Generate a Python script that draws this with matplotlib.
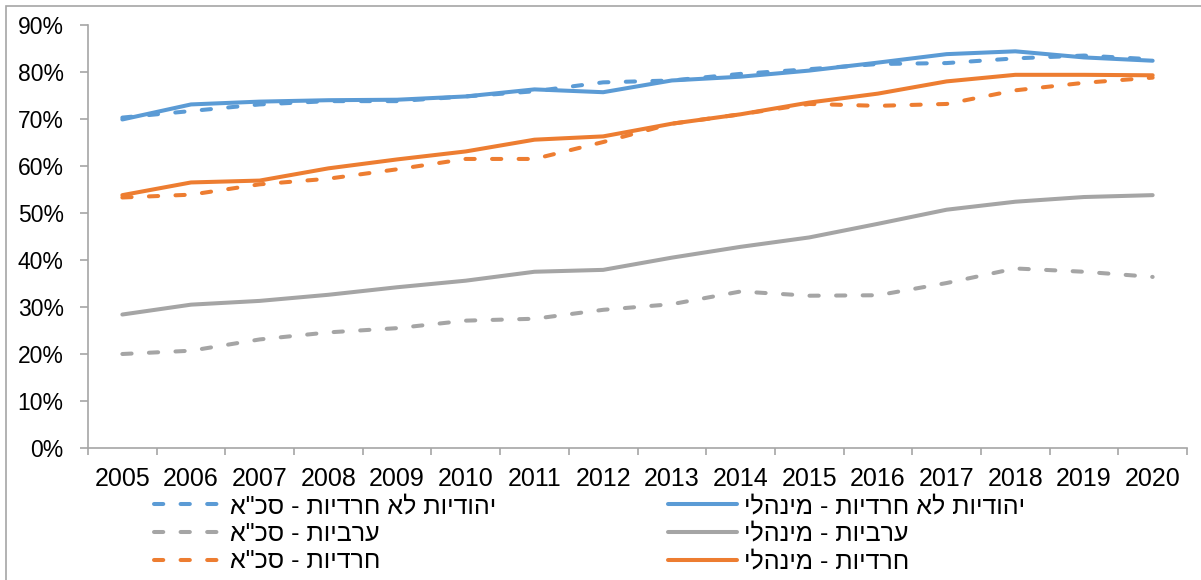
import matplotlib
matplotlib.use('Agg')
import matplotlib.pyplot as plt
from matplotlib.ticker import PercentFormatter, FixedLocator
from matplotlib.lines import Line2D

plt.rcParams['font.family'] = ['Liberation Sans', 'DejaVu Sans']

years = [str(y) for y in range(2005, 2021)]

# יהודיות לא חרדיות
jew_mgr = [69.9, 73.1, 73.7, 74.0, 74.1, 74.8, 76.3, 75.7, 78.2, 79.0, 80.3, 82.0, 83.8, 84.4, 83.1, 82.4]
jew_sca = [70.3, 71.7, 73.1, 73.8, 73.8, 74.8, 75.9, 77.8, 78.2, 79.6, 80.6, 81.7, 81.9, 82.9, 83.5, 82.7]
# ערביות
arab_mgr = [28.4, 30.5, 31.3, 32.6, 34.2, 35.6, 37.5, 37.9, 40.5, 42.8, 44.8, 47.7, 50.7, 52.4, 53.4, 53.8]
arab_sca = [20.0, 20.7, 23.1, 24.6, 25.5, 27.1, 27.5, 29.4, 30.6, 33.3, 32.4, 32.5, 35.1, 38.2, 37.5, 36.4]
# חרדיות
har_mgr = [53.8, 56.5, 56.9, 59.5, 61.4, 63.1, 65.6, 66.3, 69.0, 71.0, 73.5, 75.4, 78.0, 79.4, 79.4, 79.3]
har_sca = [53.3, 53.9, 56.1, 57.3, 59.3, 61.5, 61.5, 65.1, 69.0, 71.0, 73.2, 72.8, 73.2, 76.1, 77.7, 78.8]

labels_sca = ['יהודיות לא חרדיות - סכ"א', 'ערביות - סכ"א', 'חרדיות - סכ"א']
labels_mgr = ['יהודיות לא חרדיות - מינהלי', 'ערביות - מינהלי', 'חרדיות - מינהלי']

blue = '#5B9BD5'
gray = '#A5A5A5'
orange = '#ED7D31'
colors = [blue, gray, orange]


def rtl(s):
    # matplotlib has no bidi, so flip hebrew to visual order
    return s[::-1]


W, H = 1201, 580
fig = plt.figure(figsize=(W / 100, H / 100), dpi=100)
ax = fig.add_axes([88 / W, (H - 448) / H, 1099 / W, (448 - 25) / H])

x = list(range(len(years)))
lw = 2.9
dash = (2.3, 4.3)
ax.plot(x, jew_sca, color=blue, lw=lw, dashes=dash, dash_capstyle='round')
ax.plot(x, jew_mgr, color=blue, lw=lw, solid_capstyle='round')
ax.plot(x, arab_sca, color=gray, lw=lw, dashes=dash, dash_capstyle='round')
ax.plot(x, arab_mgr, color=gray, lw=lw, solid_capstyle='round')
ax.plot(x, har_sca, color=orange, lw=lw, dashes=dash, dash_capstyle='round')
ax.plot(x, har_mgr, color=orange, lw=lw, solid_capstyle='round')

ax.set_xlim(-0.5, len(years) - 0.5)
ax.set_ylim(0, 90)
ax.set_yticks(range(0, 91, 10))
ax.yaxis.set_major_formatter(PercentFormatter(decimals=0))

ax.xaxis.set_major_locator(FixedLocator([i - 0.5 for i in range(len(years) + 1)]))
ax.xaxis.set_minor_locator(FixedLocator(x))
ax.set_xticklabels([], minor=False)
ax.set_xticklabels(years, minor=True)

axcol = '#A6A6A6'
for side in ['top', 'right']:
    ax.spines[side].set_visible(False)
for side in ['left', 'bottom']:
    ax.spines[side].set_color(axcol)
    ax.spines[side].set_linewidth(1.2)
ax.tick_params(axis='y', which='major', length=5.5, width=1.2, color=axcol, pad=12, labelsize=16.5)
ax.tick_params(axis='x', which='major', length=5, width=1.2, color=axcol)
ax.tick_params(axis='x', which='minor', length=0, pad=14, labelsize=18)

# legend: dashed column and solid column
fs = 18
h_sca = [Line2D([], [], color=c, lw=lw, dashes=dash, dash_capstyle='round') for c in colors]
h_mgr = [Line2D([], [], color=c, lw=lw, solid_capstyle='round') for c in colors]
common = dict(loc='upper left', frameon=False, fontsize=fs, borderpad=0, borderaxespad=0,
              handlelength=2.75, handletextpad=0.3, labelspacing=0.15)
fig.legend(h_sca, [rtl(s) for s in labels_sca], bbox_to_anchor=(154 / W, (H - 494) / H), **common)
fig.legend(h_mgr, [rtl(s) for s in labels_mgr], bbox_to_anchor=(668 / W, (H - 494) / H), **common)

# chart border (left and top visible)
fig.add_artist(plt.Rectangle((6 / W, -0.1), 1.2, 1.1 - 6 / H, transform=fig.transFigure,
                             fill=False, edgecolor='#A6A6A6', lw=1.2))

fig.savefig('out.png', dpi=100)
